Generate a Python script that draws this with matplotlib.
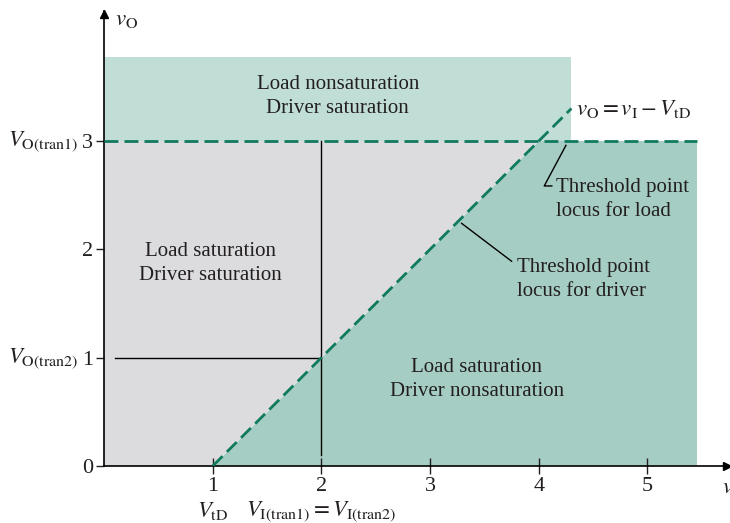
import matplotlib
matplotlib.use("Agg")
import matplotlib.pyplot as plt

plt.rcParams['font.family'] = ['Liberation Serif', 'DejaVu Serif']
plt.rcParams['mathtext.fontset'] = 'stix'

# data
v_td = 1.0          # driver threshold
v_o_tran1 = 3.0     # load threshold line
v_i_tran = 2.0      # V_I(tran1) = V_I(tran2)
v_o_tran2 = 1.0
x_end_load = 5.46   # right edge of load threshold line / region
x_end_band = 4.3    # right edge of top band, end of driver locus
y_top_band = 3.78

xticks = [1, 2, 3, 4, 5]
yticks = [0, 1, 2, 3]

light_green = '#c1ded6'
gray = '#dcdcde'
dark_green = '#a6cdc3'
line_green = '#0f7a5e'
text_col = '#231f20'

fig = plt.figure(figsize=(7.3, 5.23), dpi=100)
ax = fig.add_axes([104/730, 57/523, 625/730, 455/523])
ax.set_xlim(0, 5.75)
ax.set_ylim(0, 4.2)

# regions
ax.fill([0, x_end_band, x_end_band, 0], [v_o_tran1, v_o_tran1, y_top_band, y_top_band],
        color=light_green, lw=0, zorder=0)
ax.fill([0, v_td, v_td + v_o_tran1, 0], [0, 0, v_o_tran1, v_o_tran1],
        color=gray, lw=0, zorder=0)
ax.fill([v_td, x_end_load, x_end_load, v_td + v_o_tran1], [0, 0, v_o_tran1, v_o_tran1],
        color=dark_green, lw=0, zorder=0)

# threshold loci
ax.plot([0, x_end_load], [v_o_tran1, v_o_tran1], color=line_green, lw=2,
        dashes=(5, 2.2), zorder=3)
ax.plot([v_td, x_end_band], [0, x_end_band - v_td], color=line_green, lw=2,
        dashes=(5, 2.2), zorder=3)

# transition markers
ax.plot([v_i_tran, v_i_tran], [0.1, v_o_tran1], color='black', lw=1, zorder=2)
ax.plot([0.1, v_i_tran], [v_o_tran2, v_o_tran2], color='black', lw=1, zorder=2)

# axes styling
for s in ['top', 'right']:
    ax.spines[s].set_visible(False)
ax.spines['left'].set_linewidth(1.2)
ax.spines['bottom'].set_linewidth(1.2)
ax.set_xticks(xticks)
ax.set_yticks(yticks)
ax.tick_params(axis='x', direction='inout', length=12, width=1, labelsize=16,
               pad=2, colors=text_col)
ax.tick_params(axis='y', direction='out', length=6, width=1, labelsize=16,
               pad=2, colors=text_col)
ax.plot([0], [4.17], marker='^', color='black', ms=6, clip_on=False)
ax.plot([5.73], [0], marker='>', color='black', ms=6, clip_on=False)

fs = 15
mfs = 16.5
ax.text(0.1, 4.12, r'$v_{\mathrm{O}}$', fontsize=mfs, va='center', ha='left', color=text_col)
ax.text(5.69, -0.2, r'$v_{\mathrm{I}}$', fontsize=mfs, va='center', ha='left',
        color=text_col, clip_on=False)

# extra axis labels
ax.text(-0.24, v_o_tran1, r'$V_{\mathrm{O(tran1)}}$', fontsize=mfs, ha='right', va='center',
        color=text_col)
ax.text(-0.24, v_o_tran2, r'$V_{\mathrm{O(tran2)}}$', fontsize=mfs, ha='right', va='center',
        color=text_col)
ax.text(v_td, -0.42, r'$V_{\mathrm{tD}}$', fontsize=mfs, ha='center', va='center',
        color=text_col)
ax.text(v_i_tran, -0.42, r'$V_{\mathrm{I(tran1)}} = V_{\mathrm{I(tran2)}}$', fontsize=mfs,
        ha='center', va='center', color=text_col)

# region labels
ax.text(2.15, 3.41, 'Load nonsaturation\nDriver saturation', fontsize=fs,
        ha='center', va='center', color=text_col, linespacing=1.35)
ax.text(0.98, 1.87, 'Load saturation\nDriver saturation', fontsize=fs,
        ha='center', va='center', color=text_col, linespacing=1.35)
ax.text(3.43, 0.8, 'Load saturation\nDriver nonsaturation', fontsize=fs,
        ha='center', va='center', color=text_col, linespacing=1.35)

# locus labels and leaders
ax.text(4.34, 3.3, r'$v_{\mathrm{O}} = v_{\mathrm{I}} - V_{\mathrm{tD}}$', fontsize=mfs,
        ha='left', va='center', color=text_col)
ax.plot([4.25, 4.05, 4.12], [2.96, 2.585, 2.585], color='black', lw=1)
ax.text(4.16, 2.46, 'Threshold point\nlocus for load', fontsize=fs,
        ha='left', va='center', color=text_col, linespacing=1.35)
ax.plot([3.29, 3.75], [2.24, 1.89], color='black', lw=1)
ax.text(3.80, 1.72, 'Threshold point\nlocus for driver', fontsize=fs,
        ha='left', va='center', color=text_col, linespacing=1.35)

fig.savefig('out.png', dpi=100)
